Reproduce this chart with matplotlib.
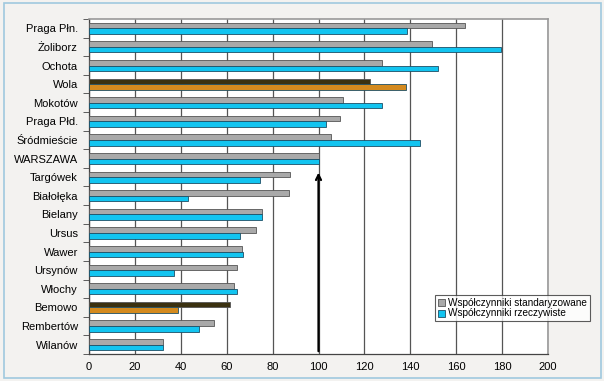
import matplotlib.pyplot as plt
import numpy as np
from matplotlib.patches import Rectangle

# Dzielnice i współczynniki
districts = ["Praga Płn.", "Żoliborz", "Ochota", "Wola", "Mokotów", "Praga Płd.",
             "Śródmieście", "WARSZAWA", "Targówek", "Białołęka", "Bielany", "Ursus",
             "Wawer", "Ursynów", "Włochy", "Bemowo", "Rembertów", "Wilanów"]
standardized = [163.7, 149.3, 127.5, 122.3, 110.8, 109.2, 105.3, 100.0, 87.6, 87.0,
                75.2, 72.6, 66.5, 64.3, 63.0, 61.3, 54.3, 32.4]
actual = [138.7, 179.7, 151.9, 138.3, 127.5, 103.1, 144.1, 100.0, 74.6, 43.0,
          75.5, 65.7, 66.9, 37.0, 64.5, 38.6, 48.0, 32.1]
highlighted = ["Wola", "Bemowo"]

grey = "#a9a9a9"
blue = "#12c4f0"
dark = "#3b3110"
orange = "#d48a1e"

plt.rcParams['font.family'] = ['Liberation Sans', 'DejaVu Sans']

fig = plt.figure(figsize=(6.04, 3.81), dpi=100, facecolor="#f3f2f0")
fig.patches.append(Rectangle((0.007, 0.008), 0.988, 0.983, transform=fig.transFigure,
                             fill=False, edgecolor="#9fc9de", linewidth=1.2))
ax = fig.add_axes([89 / 604, 1 - 354 / 381, (548 - 89) / 604, (354 - 19) / 381])
ax.set_facecolor("white")

y = np.arange(len(districts))
h = 0.3
c_std = [dark if d in highlighted else grey for d in districts]
c_act = [orange if d in highlighted else blue for d in districts]
ax.barh(y - h / 2, standardized, height=h, color=c_std, edgecolor="#555555",
        linewidth=0.6, zorder=3)
ax.barh(y + h / 2, actual, height=h, color=c_act, edgecolor="#1d4f66",
        linewidth=0.6, zorder=3)

ax.set_xlim(0, 200)
ax.set_ylim(len(districts) - 0.5, -0.5)
ax.set_xticks(range(0, 201, 20))
ax.set_yticks(y)
ax.set_yticklabels(districts)
ax.set_yticks(np.arange(-0.5, len(districts), 1), minor=True)
ax.tick_params(axis='y', which='major', length=0, pad=8, labelsize=8)
ax.tick_params(axis='y', which='minor', length=4, color="#444444")
ax.tick_params(axis='x', length=0, pad=6, labelsize=8)
ax.grid(axis='x', color="#555555", linewidth=0.9, zorder=0)
for s in ["top", "right"]:
    ax.spines[s].set_color("#999999")
    ax.spines[s].set_linewidth(1.2)
for s in ["left", "bottom"]:
    ax.spines[s].set_color("#444444")
    ax.spines[s].set_linewidth(0.9)

# strzałka na poziomie 100
ax.annotate("", xy=(100, 7.6), xytext=(100, len(districts) - 0.5),
            arrowprops=dict(arrowstyle="->", color="black", lw=1.6,
                            mutation_scale=9), zorder=5)

h1 = Rectangle((0, 0), 1, 1, facecolor=grey, edgecolor="#555555", linewidth=0.6)
h2 = Rectangle((0, 0), 1, 1, facecolor=blue, edgecolor="#1d4f66", linewidth=0.6)
leg = fig.legend([h1, h2], ["Współczynniki standaryzowane", "Współczynniki rzeczywiste"],
                 loc="upper left", bbox_to_anchor=(435 / 604, 1 - 295 / 381),
                 fontsize=7.2, frameon=True, fancybox=False, handlelength=0.7,
                 handleheight=0.7, handletextpad=0.4, borderpad=0.25,
                 labelspacing=0.1, borderaxespad=0)
leg.get_frame().set_edgecolor("#333333")
leg.get_frame().set_linewidth(0.8)

fig.savefig("out.png", dpi=100, facecolor=fig.get_facecolor())
